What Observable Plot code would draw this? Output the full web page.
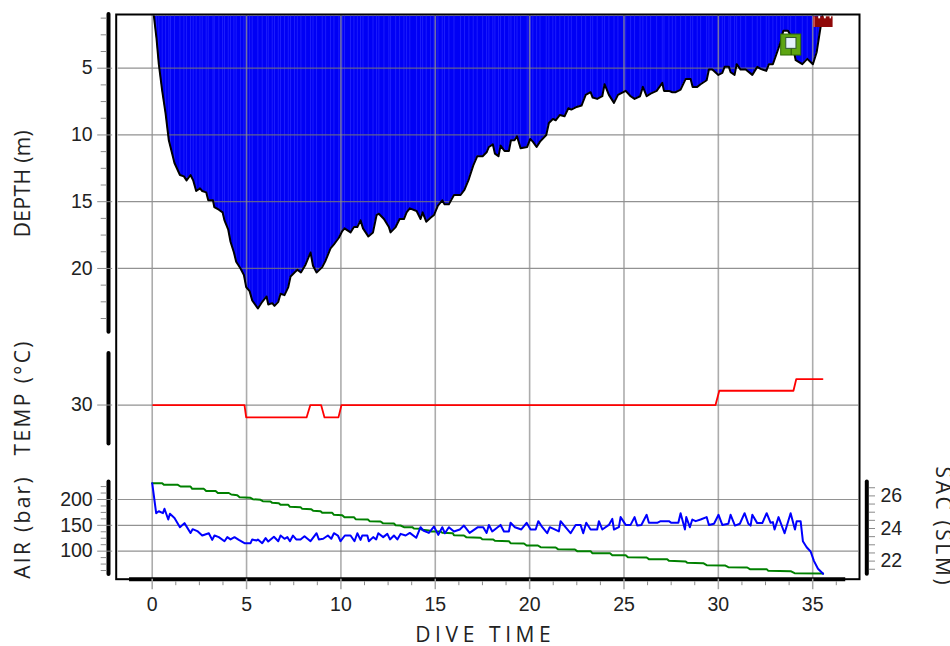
<!DOCTYPE html>
<html><head><meta charset="utf-8">
<style>html,body{margin:0;padding:0;background:#fff;overflow:hidden}#c{position:relative;width:950px;height:646px}#c svg{position:absolute;left:0;top:0}</style>
<script src="https://cdn.jsdelivr.net/npm/d3@7"></script>
<script src="https://cdn.jsdelivr.net/npm/@observablehq/plot@0.6"></script>
</head><body><div id="c"></div>
<script>
const depthProfile = [[0.09,1.1],[0.23,2.8],[0.35,4.7],[0.53,6.7],[0.71,8.4],[0.88,10.4],[0.97,10.9],[1.18,12.1],[1.47,13.0],[1.68,13.1],[1.82,13.4],[2.03,13.0],[2.17,13.4],[2.33,14.2],[2.53,14.0],[2.65,14.2],[2.86,14.3],[2.97,14.9],[3.22,14.9],[3.29,15.4],[3.53,15.6],[3.73,15.8],[3.83,16.4],[4.03,17.1],[4.15,18.0],[4.33,18.8],[4.45,19.5],[4.68,20.0],[4.86,20.5],[4.98,21.4],[5.16,21.7],[5.30,22.4],[5.60,23.0],[5.83,22.5],[6.06,22.1],[6.15,22.7],[6.36,22.6],[6.48,22.8],[6.68,22.5],[6.80,21.9],[7.01,22.0],[7.21,21.4],[7.33,20.6],[7.54,20.3],[7.69,20.1],[7.88,20.3],[8.13,19.7],[8.39,18.8],[8.52,19.8],[8.71,20.3],[9.01,19.9],[9.19,19.4],[9.45,18.5],[9.63,18.2],[9.89,17.7],[10.07,17.2],[10.19,17.0],[10.51,17.3],[10.69,16.9],[10.87,16.9],[11.04,16.4],[11.17,17.0],[11.45,17.6],[11.70,17.3],[11.89,16.0],[12.01,15.9],[12.28,16.3],[12.54,16.9],[12.63,17.3],[12.90,16.9],[13.11,16.3],[13.34,16.3],[13.48,15.8],[13.65,15.5],[14.01,15.7],[14.22,16.3],[14.33,15.8],[14.52,16.5],[14.75,16.2],[14.93,16.0],[15.14,15.3],[15.37,14.9],[15.49,15.2],[15.72,15.2],[15.99,14.5],[16.34,14.5],[16.55,14.1],[16.78,13.3],[17.01,12.3],[17.22,11.6],[17.51,11.6],[17.72,11.3],[17.84,10.9],[18.05,10.7],[18.16,11.4],[18.35,11.6],[18.46,10.8],[18.67,11.2],[18.90,11.2],[19.01,10.4],[19.20,10.4],[19.33,10.1],[19.52,11.0],[19.87,10.9],[20.03,10.3],[20.17,10.5],[20.37,10.9],[20.55,10.5],[20.88,10.0],[21.02,9.1],[21.23,8.8],[21.38,8.9],[21.60,8.5],[21.85,8.6],[22.05,8.0],[22.21,8.1],[22.49,7.9],[22.75,7.8],[22.97,7.0],[23.23,6.8],[23.34,7.2],[23.58,7.3],[23.85,7.1],[23.97,6.2],[24.20,7.0],[24.47,7.6],[24.68,7.0],[25.09,6.7],[25.35,7.1],[25.56,7.3],[25.85,7.1],[26.0,6.4],[26.2,7.1],[26.41,6.9],[26.73,6.7],[27.03,6.1],[27.12,6.7],[27.38,6.7],[27.56,6.8],[27.74,6.8],[28.0,6.6],[28.27,5.8],[28.53,5.8],[28.64,6.4],[28.88,6.4],[29.06,6.2],[29.38,5.9],[29.5,5.1],[29.68,5.1],[30.0,5.5],[30.21,5.35],[30.33,4.9],[30.56,4.9],[30.65,5.3],[30.86,5.5],[30.97,4.7],[31.18,5.1],[31.45,5.1],[31.8,5.5],[32.06,4.9],[32.24,5.05],[32.54,5.2],[32.68,4.7],[32.89,4.7],[33.09,3.9],[33.3,3.05],[33.44,2.2],[33.69,2.2],[33.83,2.55],[34.1,4.4],[34.45,4.7],[34.71,4.3],[35.01,4.7],[35.21,3.8],[35.33,2.7],[35.42,1.9],[35.51,1.1]];
const tempProfile = [[0.05,30],[4.89,30],[4.98,29.05],[8.18,29.05],[8.38,30],[8.95,30],[9.13,29.05],[9.87,29.05],[10.03,30],[29.85,30],[30.05,31.1],[33.98,31.1],[34.13,32],[35.52,32]];
const airProfile = [[0,231.6],[0.53,231.6],[0.62,228.4],[1.36,228.4],[1.5,225.2],[2.03,225.2],[2.12,220.6],[2.74,220.6],[2.86,216.5],[3.36,216.5],[3.48,212.6],[4.06,212.6],[4.19,209.7],[4.51,208.4],[4.63,204.5],[5.21,203.2],[5.33,200.6],[5.74,199.4],[5.86,196.8],[6.27,196.1],[6.36,193.5],[6.71,192.9],[6.8,189.7],[7.21,189.7],[7.3,185.8],[7.86,185.2],[7.95,181.9],[8.43,181.3],[8.53,178.1],[8.92,177.4],[9.01,174.2],[9.54,174.2],[9.63,170.3],[10.07,169.7],[10.19,165.8],[10.69,165.8],[10.78,161.9],[11.43,161.3],[11.52,158.1],[12.1,157.4],[12.22,154.2],[12.81,153.5],[12.9,150.3],[13.16,149.7],[13.34,146.5],[13.78,146.5],[13.87,143.9],[14.22,143.2],[14.31,141.3],[14.66,140],[14.79,138.1],[15.28,138.1],[15.37,135.5],[15.93,134.8],[15.99,131],[16.52,130.3],[16.64,127.1],[17.4,125.8],[17.49,123.2],[18.07,122.6],[18.16,120],[18.9,119.4],[18.99,115.5],[19.7,114.8],[19.84,111],[20.44,111],[20.58,107.7],[21.38,107.1],[21.5,103.9],[22.4,103.2],[22.52,100],[23.23,100],[23.32,96.1],[24.26,96.1],[24.38,92.3],[25.09,92.3],[25.21,88.4],[26.2,87.7],[26.32,84.5],[27.29,84.5],[27.38,81.3],[28.27,80],[28.35,77.4],[29.2,76.8],[29.38,72.9],[30.35,72.3],[30.53,69],[31.53,68.4],[31.67,65.2],[32.56,65.2],[32.65,61.9],[33.83,61.3],[34.04,57.4],[35.55,56.8]];
const sacProfile = [[0,26.78],[0.21,24.94],[0.35,25.06],[0.57,24.94],[0.65,25.21],[0.85,24.55],[0.94,24.9],[1.18,24.65],[1.47,24.08],[1.71,24.33],[2.03,23.73],[2.14,23.96],[2.39,23.84],[2.65,23.57],[3.0,23.71],[3.18,23.3],[3.3,23.57],[3.53,23.47],[3.83,23.22],[3.98,23.47],[4.15,23.33],[4.36,23.47],[4.59,23.3],[4.89,23.1],[5.21,23.1],[5.3,23.33],[5.53,23.26],[5.6,23.33],[5.83,23.1],[6.01,23.41],[6.15,23.2],[6.45,23.49],[6.68,23.22],[6.8,23.57],[7.01,23.37],[7.16,23.47],[7.3,23.22],[7.46,23.57],[7.63,23.33],[7.86,23.33],[8.07,23.53],[8.39,23.22],[8.71,23.71],[8.83,23.33],[9.06,23.37],[9.31,23.57],[9.49,23.37],[9.63,23.71],[9.84,23.57],[9.98,23.22],[10.21,23.57],[10.51,23.57],[10.72,23.22],[10.87,23.71],[11.04,23.3],[11.13,23.57],[11.4,23.57],[11.48,23.22],[11.71,23.47],[11.87,23.33],[11.98,23.71],[12.24,23.47],[12.46,23.67],[12.6,23.33],[12.81,23.57],[12.99,23.33],[13.16,23.67],[13.43,23.57],[13.65,23.73],[13.99,23.43],[14.22,24.08],[14.36,23.88],[14.66,23.73],[14.93,24.12],[15.16,23.61],[15.37,24.08],[15.51,23.71],[15.72,24.08],[15.99,23.82],[16.3,23.94],[16.52,24.18],[16.82,23.73],[17.26,24.08],[17.54,24.08],[17.72,23.73],[17.84,24.22],[18.02,23.82],[18.46,24.22],[18.64,23.82],[18.9,23.82],[18.99,24.35],[19.22,24.08],[19.56,23.94],[19.84,24.35],[20.05,23.94],[20.32,23.94],[20.46,24.45],[20.67,24.08],[20.93,23.71],[21.07,24.08],[21.55,23.82],[21.64,24.45],[21.9,24.08],[22.17,23.71],[22.44,24.22],[22.7,24.22],[22.84,23.71],[23.0,24.35],[23.23,23.94],[23.58,23.94],[23.67,24.45],[23.85,23.94],[24.2,24.22],[24.38,24.59],[24.47,23.94],[24.73,24.08],[24.82,24.7],[25.09,24.22],[25.35,24.22],[25.56,24.7],[25.7,24.18],[25.92,24.22],[26.2,24.84],[26.32,24.35],[26.76,24.35],[26.94,24.45],[27.38,24.45],[27.51,24.35],[27.88,24.35],[28.0,24.94],[28.23,23.94],[28.3,24.7],[28.49,24.08],[28.62,24.55],[28.8,24.45],[29.06,24.55],[29.38,24.7],[29.5,24.22],[29.77,24.29],[30.01,24.84],[30.21,24.22],[30.53,24.29],[30.65,24.84],[30.88,24.18],[31.14,24.29],[31.39,24.94],[31.59,24.29],[31.71,24.18],[31.8,24.84],[32.06,24.33],[32.33,24.33],[32.56,24.94],[32.77,24.35],[32.89,24.39],[32.98,23.94],[33.19,24.7],[33.51,23.71],[33.83,24.94],[34.06,23.94],[34.15,24.45],[34.36,24.45],[34.48,23.22],[34.68,22.85],[34.89,22.59],[35.07,22.0],[35.28,21.53],[35.55,21.22]];

const timeTicks = [0,5,10,15,20,25,30,35];
const timeMinor = d3.range(0,36.26,1.25).filter(v=>v%5!==0);
const depthTicks = [5,10,15,20];
const depthMinor = d3.range(1.25,24,1.25).filter(v=>v%5!==0);
const tempTicks = [30];
const airTicks = [100,150,200];
const airMinor = [62.5,75,87.5,112.5,125,137.5,162.5,175,187.5,212.5,225];
const sacTicks = [22,24,26];
const sacMinor = [21.5,22.5,23,23.5,24.5,25,25.5,26.5];

const xDomain = [-1.908,37.48];
const W=950,H=646;
const M = {marginLeft:115.7,marginRight:91,marginTop:14,marginBottom:67.3,width:W,height:H};
const gridC="#909090", hGridC="#777777";
const noLabel = ()=>"";
const tickFont = {fontSize:19.5,fontFamily:"Liberation Sans, Arial, sans-serif",fill:"#222"};
const titleFont = {fontFamily:"Open Sans, sans-serif",fontSize:21,fill:"#222"};
const spacing = {"DEPTH (m)":0.4,"TEMP (°C)":2.4,"AIR (bar)":2.3,"SAC (SLM)":2.6,"DIVE TIME":4.6};

function mk(yDomain, marks, bg){
  const svg = Plot.plot({...M, style:{background:bg?"#fff":"transparent",overflow:"hidden"},
    x:{domain:xDomain,axis:null}, y:{domain:yDomain,range:[M.marginTop,H-M.marginBottom],axis:null}, marks});
  svg.querySelectorAll("text").forEach(t=>{const s=spacing[t.textContent.trim()]; if(s!==undefined) t.style.letterSpacing=s+"px";});
  document.getElementById("c").appendChild(svg);
}
const leftAxis=(major,minor)=>[
  Plot.axisY(major,{anchor:"left",tickSize:15,dx:-3.5,tickPadding:5,stroke:"#8a8a8a",label:null,...tickFont}),
  Plot.axisY(minor,{anchor:"left",tickSize:6,dx:-9,stroke:"#8a8a8a",tickFormat:noLabel,label:null})
];
const hGrid = (v)=>Plot.ruleY(v,{x1:-1.8,x2:37.48,stroke:hGridC,strokeOpacity:0.8,strokeWidth:1.2});

// depth panel: frame, time axis, vertical grid
mk([0.9775,43.277],[
  Plot.areaY(depthProfile,{x:d=>d[0],y1:1.1,y2:d=>d[1],fill:"#0000f5",curve:"linear"}),
  Plot.ruleX(depthProfile,{x:d=>d[0],y1:1.1,y2:d=>d[1],stroke:"#3030ff",strokeWidth:1,strokeOpacity:0.6}),
  hGrid(depthTicks),
  Plot.ruleX(timeTicks,{y1:0.9775,y2:43.277,stroke:gridC,strokeOpacity:0.75,strokeWidth:1.6}),
  Plot.line(depthProfile,{x:d=>d[0],y:d=>d[1],stroke:"#000",strokeWidth:2}),
  // waypoint marker
  Plot.rect([[33.33,34.39,2.48,4.05]],{x1:d=>d[0],x2:d=>d[1],y1:d=>d[2],y2:d=>d[3],fill:"#5da512",stroke:"#2f6d06",strokeWidth:1}),
  Plot.ruleX([33.86],{y1:3.4,y2:4.05,stroke:"#1f4d04",strokeWidth:1}),
  Plot.rect([[33.6,34.14,2.74,3.55]],{x1:d=>d[0],x2:d=>d[1],y1:d=>d[2],y2:d=>d[3],fill:"#e4f1fc",stroke:"#2f5530",strokeWidth:1}),
  // surface marker
  Plot.rect([[35.05,36.08,1.15,1.95]],{x1:d=>d[0],x2:d=>d[1],y1:d=>d[2],y2:d=>d[3],fill:"#8f0808"}),
  Plot.rect([[35.05,35.15,1.15,1.95]],{x1:d=>d[0],x2:d=>d[1],y1:d=>d[2],y2:d=>d[3],fill:"#c85050"}),
  Plot.rect([[35.32,35.42,1.1,1.3],[35.62,35.72,1.1,1.3],[35.92,36.0,1.1,1.3]],{x1:d=>d[0],x2:d=>d[1],y1:d=>d[2],y2:d=>d[3],fill:"#fff"}),
  Plot.frame({stroke:"#000",strokeWidth:2}),
  Plot.ruleY([43.277],{x1:-1.2,x2:36.75,stroke:"#000",strokeWidth:4}),
  Plot.ruleX([xDomain[0]],{y1:0.9775,y2:24.77,dx:-7.7,stroke:"#000",strokeWidth:4,strokeLinecap:"round"}),
  ...leftAxis(depthTicks,depthMinor),
  Plot.axisX(timeTicks,{anchor:"bottom",tickSize:10.5,tickPadding:7,stroke:"#a6a6a6",strokeWidth:1.5,label:null,...tickFont}),
  Plot.axisX(timeMinor,{anchor:"bottom",tickSize:4,dy:2.5,stroke:"#8a8a8a",tickFormat:noLabel,label:null}),
  Plot.text(["DEPTH (m)"],{x:-6.82,y:13.64,rotate:-90,...titleFont}),
  Plot.text(["DIVE TIME"],{x:17.65,y:47.5,...titleFont}),
],true);

// temperature panel
mk([60.05,16.6],[
  hGrid(tempTicks),
  Plot.line(tempProfile,{x:d=>d[0],y:d=>d[1],stroke:"#ff0000",strokeWidth:1.8}),
  Plot.ruleX([xDomain[0]],{y1:33.97,y2:27,dx:-7.7,stroke:"#000",strokeWidth:4,strokeLinecap:"round"}),
  Plot.axisY(tempTicks,{anchor:"left",tickSize:15,dx:-3.5,tickPadding:5,stroke:"#8a8a8a",label:null,...tickFont}),
  Plot.text(["TEMP (°C)"],{x:-6.82,y:30.6,rotate:-90,...titleFont}),
]);

// air panel
mk([1139,45.7],[
  hGrid(airTicks),
  Plot.line(airProfile,{x:d=>d[0],y:d=>d[1],stroke:"#008000",strokeWidth:2}),
  Plot.ruleX([xDomain[0]],{y1:234,y2:55,dx:-7.7,stroke:"#000",strokeWidth:4,strokeLinecap:"round"}),
  ...leftAxis(airTicks,airMinor),
  Plot.text(["AIR (bar)"],{x:-6.82,y:147,rotate:-90,...titleFont}),
]);

// SAC panel
mk([55.53,20.89],[
  Plot.line(sacProfile,{x:d=>d[0],y:d=>d[1],stroke:"#0000ff",strokeWidth:2}),
  Plot.ruleX([xDomain[1]],{y1:26.85,y2:21.2,dx:7.3,stroke:"#000",strokeWidth:4,strokeLinecap:"round"}),
  Plot.axisY(sacTicks,{anchor:"right",tickSize:6,dx:9,tickPadding:6,stroke:"#8a8a8a",label:null,...tickFont}),
  Plot.axisY(sacMinor,{anchor:"right",tickSize:6,dx:9,stroke:"#8a8a8a",tickFormat:noLabel,label:null}),
  Plot.text(["SAC (SLM)"],{x:41.9,y:24.1,rotate:90,...titleFont}),
]);
</script></body></html>
